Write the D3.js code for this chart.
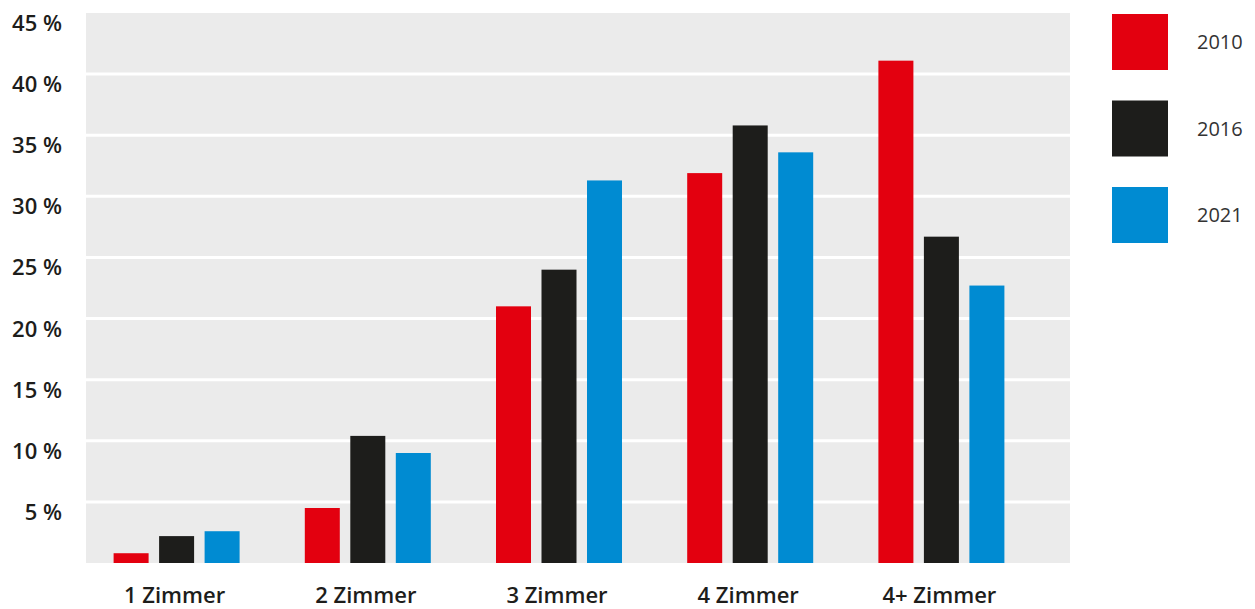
<!DOCTYPE html>
<html lang="de">
<head>
  <meta charset="UTF-8">
  <title>Zimmer</title>
  <style>
    body {
      margin: 0;
      background: #fff;
      overflow: hidden;
    }
    svg text {
      font-family: "Open Sans", "Noto Sans", sans-serif;
      fill: #1d1d1b;
    }
    .ylab, .xlab {
      font-weight: 600;
      font-size: 22px;
    }
    .leg {
      font-weight: 400;
      font-size: 20px;
      fill: #333;
    }
  </style>
</head>
<body>
  <svg></svg>
<script src="https://cdn.jsdelivr.net/npm/d3@7"></script>
<script>
  var categories = ['1 Zimmer', '2 Zimmer', '3 Zimmer', '4 Zimmer', '4+ Zimmer']
  var years = ['2010', '2016', '2021']
  var v2010 = [0.8, 4.5, 21.0, 31.9, 41.1]
  var v2016 = [2.2, 10.4, 24.0, 35.8, 26.7]
  var v2021 = [2.6, 9.0, 31.3, 33.6, 22.7]
  var yTicks = [5, 10, 15, 20, 25, 30, 35, 40, 45]
  var colors = ['#e3000f', '#1d1d1b', '#008bd2']

  var series = [v2010, v2016, v2021]

  var width = 1255
  var height = 609
  var plotLeft = 86, plotRight = 1070, plotTop = 13, plotBottom = 563

  var svg = d3.select('svg')
    .attr('width', width)
    .attr('height', height)

  var y = d3.scaleLinear().domain([0, 45]).range([plotBottom, plotTop])
  var x0 = d3.scaleBand().domain(categories).range([81, 1037])
  var x1 = d3.scaleBand().domain(years).range([0, 126]).paddingInner(10.5 / 45.5)
  var color = d3.scaleOrdinal().domain(years).range(colors)

  // plot background
  svg.append('rect')
    .attr('x', plotLeft)
    .attr('y', plotTop)
    .attr('width', plotRight - plotLeft)
    .attr('height', plotBottom - plotTop)
    .attr('fill', '#ebebeb')

  // grid
  svg.selectAll('line.grid')
    .data(yTicks.slice(0, -1))
    .enter()
    .append('line')
    .attr('class', 'grid')
    .attr('x1', plotLeft)
    .attr('x2', plotRight)
    .attr('y1', d => y(d))
    .attr('y2', d => y(d))
    .attr('stroke', '#fff')
    .attr('stroke-width', 3)

  // y labels (sit a little below their line)
  svg.selectAll('text.ylab')
    .data(yTicks)
    .enter()
    .append('text')
    .attr('class', 'ylab')
    .attr('x', 62)
    .attr('y', d => y(d) + 18)
    .attr('text-anchor', 'end')
    .text(d => d + ' %')

  // bars
  var groups = svg.selectAll('g.grp')
    .data(categories)
    .enter()
    .append('g')
    .attr('class', 'grp')
    .attr('transform', d => `translate(${x0(d) + x0.bandwidth() / 2 - 63},0)`)

  groups.selectAll('rect')
    .data((c, i) => years.map((yr, j) => ({ year: yr, value: series[j][i] })))
    .enter()
    .append('rect')
    .attr('x', d => x1(d.year))
    .attr('width', x1.bandwidth())
    .attr('y', d => y(d.value))
    .attr('height', d => y(0) - y(d.value))
    .attr('fill', d => color(d.year))

  // x labels
  svg.selectAll('text.xlab')
    .data(categories)
    .enter()
    .append('text')
    .attr('class', 'xlab')
    .attr('x', d => x0(d) + x0.bandwidth() / 2 - 2)
    .attr('y', 603)
    .attr('text-anchor', 'middle')
    .text(d => d)

  // legend
  var leg = svg.selectAll('g.leg')
    .data(years)
    .enter()
    .append('g')
    .attr('transform', (d, i) => `translate(1112,${14 + i * 86.5})`)

  leg.append('rect')
    .attr('width', 56)
    .attr('height', 56)
    .attr('fill', d => color(d))

  leg.append('text')
    .attr('class', 'leg')
    .attr('x', 85)
    .attr('y', 28)
    .attr('dy', '0.35em')
    .text(d => d)
</script>
</body>
</html>
